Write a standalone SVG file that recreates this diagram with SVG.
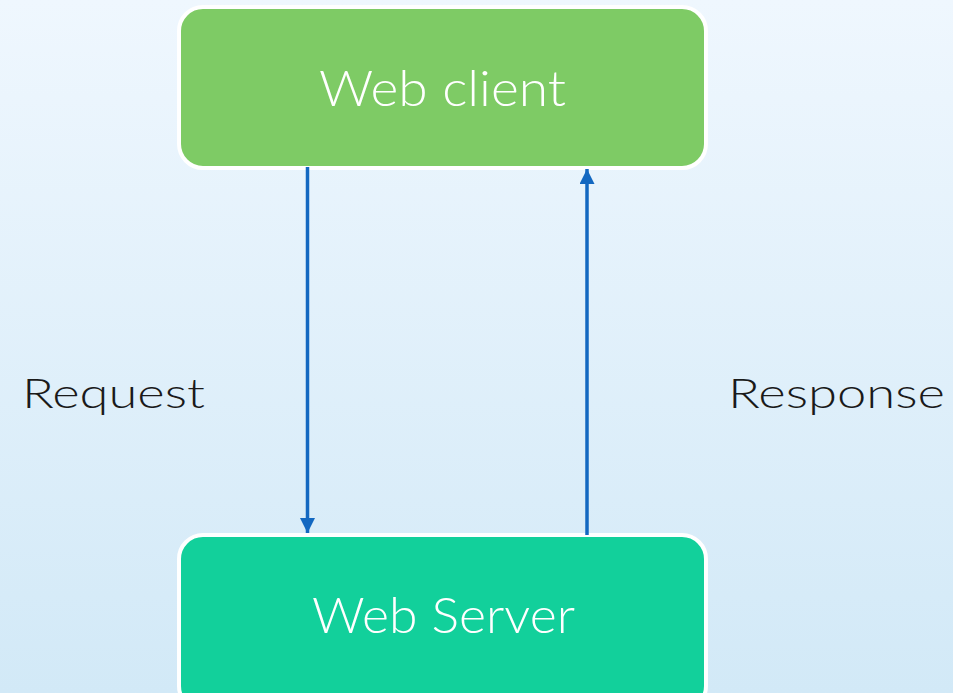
<svg xmlns="http://www.w3.org/2000/svg" width="953" height="693" viewBox="0 0 953 693">
<defs>
<linearGradient id="bg" x1="0" y1="0" x2="0" y2="1">
<stop offset="0" stop-color="#eff7fe"/>
<stop offset="1" stop-color="#d2e9f7"/>
</linearGradient>
<marker id="ah" viewBox="0 0 15 15" refX="15" refY="7.5" markerWidth="15" markerHeight="15" markerUnits="userSpaceOnUse" orient="auto">
<path d="M0,0 L15,7.5 L0,15 Z" fill="#1368c1"/>
</marker>
<style>
.box{stroke:#ffffff;stroke-width:4}
.lbl{font-family:Lato,"Liberation Sans",sans-serif;font-weight:300;font-size:50px;fill:#ffffff;text-anchor:middle}
.side{font-family:Lato,"Liberation Sans",sans-serif;font-weight:300;font-size:42px;fill:#1a1a1a}
.conn{stroke:#1368c1;stroke-width:3.5;fill:none}
</style>
</defs>
<rect x="0" y="0" width="953" height="693" fill="url(#bg)"/>
<g id="web-client">
<rect class="box" x="179" y="7" width="527" height="161" rx="24" fill="#7ecb65"/>
<text class="lbl" x="442.5" y="106" textLength="247" lengthAdjust="spacingAndGlyphs">Web client</text>
</g>
<g id="web-server">
<rect class="box" x="179" y="535" width="527" height="175" rx="24" fill="#12d09b"/>
<text class="lbl" x="443.5" y="633" textLength="263" lengthAdjust="spacingAndGlyphs">Web Server</text>
</g>
<g id="connectors">
<line class="conn" x1="307.5" y1="167" x2="307.5" y2="533" marker-end="url(#ah)"/>
<line class="conn" x1="587" y1="535" x2="587" y2="169" marker-end="url(#ah)"/>
</g>
<g id="labels">
<text class="side" x="22" y="408" textLength="183" lengthAdjust="spacingAndGlyphs">Request</text>
<text class="side" x="728" y="408" textLength="217" lengthAdjust="spacingAndGlyphs">Response</text>
</g>
</svg>
